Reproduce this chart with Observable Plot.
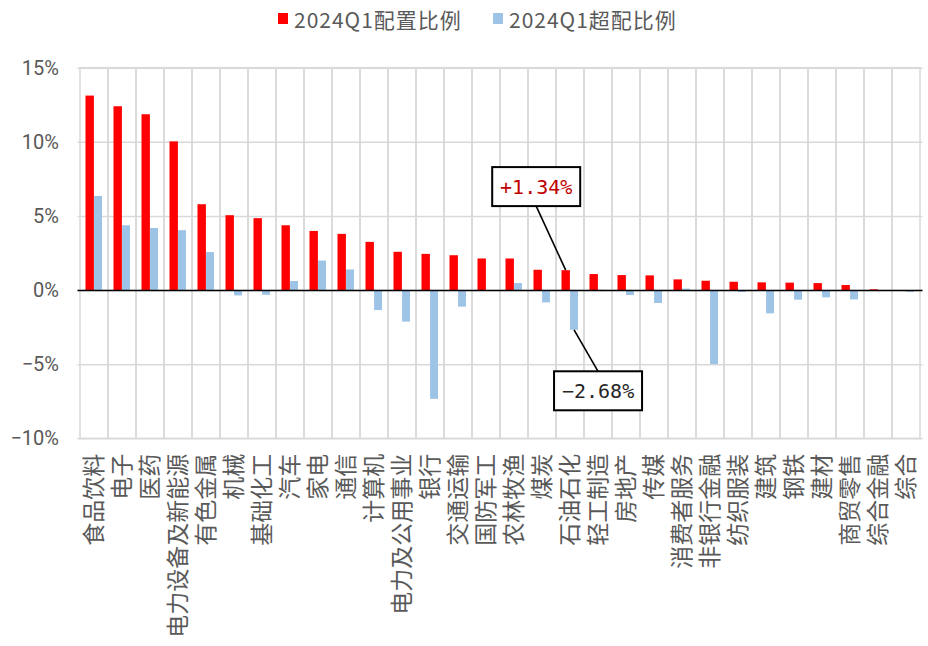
<!DOCTYPE html>
<html><head><meta charset="utf-8">
<script src="https://cdn.jsdelivr.net/npm/d3@7"></script>
<script src="https://cdn.jsdelivr.net/npm/@observablehq/plot@0.6"></script>
<style>
body{margin:0;background:#fff;}
#wrap{position:relative;width:928px;height:646px;overflow:hidden;}
#legend{position:absolute;left:0;top:0;width:928px;height:40px;z-index:2;}
.key{position:absolute;width:10px;height:11px;top:13px;}
.lab{position:absolute;top:3px;font-family:"Noto Sans CJK SC";font-size:21px;letter-spacing:1px;color:#595959;white-space:nowrap;line-height:32px;}
#chart{position:absolute;left:0;top:0;}
</style></head><body>
<div id="wrap"><div id="legend"></div><div id="chart"></div></div>
<script>
const categories = ["食品饮料","电子","医药","电力设备及新能源","有色金属","机械","基础化工","汽车","家电","通信","计算机","电力及公用事业","银行","交通运输","国防军工","农林牧渔","煤炭","石油石化","轻工制造","房地产","传媒","消费者服务","非银行金融","纺织服装","建筑","钢铁","建材","商贸零售","综合金融","综合"];
const allocation = [13.12,12.40,11.86,10.03,5.79,5.05,4.85,4.37,3.99,3.79,3.25,2.58,2.44,2.35,2.13,2.13,1.37,1.34,1.08,1.01,0.99,0.72,0.63,0.56,0.52,0.50,0.47,0.34,0.05,0.00];
const overweight = [6.35,4.37,4.19,4.04,2.56,-0.36,-0.32,0.61,1.99,1.39,-1.35,-2.13,-7.34,-1.12,-0.05,0.47,-0.83,-2.68,0.02,-0.34,-0.87,0.10,-5.00,-0.13,-1.57,-0.65,-0.49,-0.63,-0.05,-0.13];
const seriesNames = ["2024Q1配置比例","2024Q1超配比例"];
const seriesColors = ["#ff0000","#9dc3e6"];
const yTicks = [-10,-5,0,5,10,15];
const calloutCategory = "石油石化";
const calloutLabels = ["+1.34%","−2.68%"];

const rows = categories.map((c,i)=>({category:c, allocation:allocation[i], overweight:overweight[i]}));
const calloutRow = rows.find(r=>r.category===calloutCategory);

// legend
const legend = document.getElementById("legend");
const keyX = [278, 493];
seriesNames.forEach((name,i)=>{
  const k = document.createElement("div");
  k.className="key"; k.style.left=keyX[i]+"px"; k.style.background=seriesColors[i];
  legend.appendChild(k);
  const t = document.createElement("div");
  t.className="lab"; t.style.left=(keyX[i]+16)+"px"; t.textContent=name;
  legend.appendChild(t);
});

const RED_IN_L = 5.5, RED_IN_R = 14.1, BLUE_IN_L = 14.1, BLUE_IN_R = 6;

function callouts(index, scales) {
  const x = scales.x, y = scales.y, bw = x.bandwidth();
  const g = d3.create("svg:g");
  const boxW = 88, boxH = 39;
  const specs = [
    {cx: x(calloutCategory) + RED_IN_L + (bw-RED_IN_L-RED_IN_R)/2, v: calloutRow.allocation, dx:-29.5, dy:-83.6, text: calloutLabels[0], color:"#c00000"},
    {cx: x(calloutCategory) + BLUE_IN_L + (bw-BLUE_IN_L-BLUE_IN_R)/2, v: calloutRow.overweight, dx:24, dy:61, text: calloutLabels[1], color:"#262626"}
  ];
  for (const s of specs) {
    const py = y(s.v);
    const bx = s.cx + s.dx, by = py + s.dy;
    const edgeY = s.dy < 0 ? by + boxH/2 : by - boxH/2;
    g.append("line").attr("x1", s.cx).attr("y1", py).attr("x2", bx).attr("y2", edgeY)
      .attr("stroke","#000").attr("stroke-width",1.6);
    g.append("rect").attr("x", bx-boxW/2).attr("y", by-boxH/2).attr("width", boxW).attr("height", boxH)
      .attr("fill","#fff").attr("stroke","#000").attr("stroke-width",2);
    g.append("text").attr("x", bx).attr("y", by).attr("text-anchor","middle").attr("dominant-baseline","central")
      .attr("font-family","DejaVu Sans Mono").attr("font-size",20).attr("fill", s.color).text(s.text);
  }
  return g.node();
}

const fmt = d => (d < 0 ? "−" : "") + Math.abs(d) + "%";

const plot = Plot.plot({
  width: 928, height: 646,
  marginLeft: 77.5, marginRight: 5.5, marginTop: 67.7, marginBottom: 207.7,
  style: {color: "#595959", background: "transparent"},
  x: {domain: categories, padding: 0, axis: null},
  y: {domain: [yTicks[0], yTicks[yTicks.length-1]], axis: null},
  marks: [
    Plot.ruleY(yTicks, {stroke: "#d9d9d9", strokeWidth: 1.5}),
    Plot.barY(categories, {x: d => d, y1: yTicks[0], y2: yTicks[yTicks.length-1], fill: "none", stroke: "#d9d9d9", strokeWidth: 1.5}),
    Plot.barY(rows, {x: "category", y: "allocation", fill: seriesColors[0], insetLeft: RED_IN_L, insetRight: RED_IN_R}),
    Plot.barY(rows, {x: "category", y: "overweight", fill: seriesColors[1], insetLeft: BLUE_IN_L, insetRight: BLUE_IN_R}),
    Plot.ruleY([0], {stroke: "#000", strokeWidth: 1.6}),
    Plot.axisY({ticks: yTicks, tickSize: 0, tickPadding: 19, tickFormat: fmt, label: null, fontSize: 20, fontFamily: "Roboto"}),
    Plot.axisX({tickSize: 0, tickPadding: 15, tickRotate: -90, label: null, fontSize: 23, fontFamily: "Noto Sans CJK SC"}),
    callouts
  ]
});
document.getElementById("chart").appendChild(plot);
</script>
</body></html>
